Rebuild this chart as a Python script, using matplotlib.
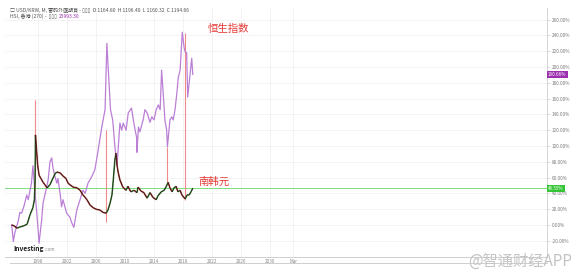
import matplotlib
matplotlib.use("Agg")
import matplotlib.pyplot as plt
from matplotlib.lines import Line2D

plt.rcParams['font.family'] = ['Noto Sans CJK SC', 'DejaVu Sans']

# Hang Seng index, % change from start
hsi_t = [1994.37, 1994.6, 1994.8, 1995.3, 1995.5, 1995.75, 1996.1, 1996.45, 1996.65, 1997.1,
         1997.3, 1997.45, 1997.6, 1997.8, 1998.05, 1998.15, 1998.5, 1998.7, 1999.2, 1999.4,
         1999.65, 1999.9, 2000.05, 2000.35, 2000.6, 2000.75, 2001.05, 2001.25, 2001.45, 2001.95,
         2002.4, 2002.65, 2002.95, 2003.35, 2003.8, 2004.2, 2004.5, 2004.9, 2005.4, 2005.85,
         2006.3, 2006.8, 2007.25, 2007.5, 2007.7, 2007.85, 2008.0, 2008.3, 2008.6, 2008.9,
         2009.3, 2009.55, 2009.75, 2010.15, 2010.45, 2010.9, 2011.15, 2011.4, 2011.6, 2011.65,
         2011.85, 2012.05, 2012.5, 2012.75, 2013.05, 2013.45, 2013.7, 2014.0, 2014.3, 2014.6,
         2014.85, 2015.05, 2015.3, 2015.5, 2015.75, 2015.85, 2016.2, 2016.45, 2016.65, 2016.9,
         2017.15, 2017.35, 2017.6, 2017.9, 2018.15, 2018.3, 2018.5, 2018.65, 2018.85, 2019.2,
         2019.35]
hsi_pct = [0, -21, -10, 6, 16, 15, 25, 38, 32, 53,
           75, 57, 40, 19, -10, -23, 6, 28, 48, 57,
           80, 85, 73, 61, 53, 59, 40, 23, 32, 15,
           10, 3, -3, 19, 32, 44, 40, 53, 61, 70,
           95, 124, 146, 230, 196, 171, 146, 133, 100, 75,
           129, 120, 129, 120, 142, 148, 133, 120, 111, 92,
           124, 118, 133, 146, 142, 130, 137, 133, 146, 152,
           146, 196, 162, 133, 120, 99, 133, 137, 133, 146,
           167, 187, 196, 244, 225, 219, 218, 162, 180, 211,
           190.66]

# USD/KRW monthly close, % change from start
krw_t = [1994.37, 1994.7, 1995.1, 1995.5, 1996.05, 1996.5, 1996.9, 1997.3, 1997.5, 1997.6,
         1997.65, 1997.8, 1997.95, 1998.15, 1998.4, 1998.7, 1998.95, 1999.25, 1999.65, 1999.95,
         2000.35, 2000.6, 2001.05, 2001.45, 2001.85, 2002.15, 2002.4, 2002.85, 2003.4, 2003.8,
         2004.2, 2004.5, 2004.75, 2005.2, 2005.6, 2006.0, 2006.55, 2006.95, 2007.4, 2007.65,
         2007.95, 2008.2, 2008.35, 2008.6, 2008.75, 2008.9, 2009.05, 2009.3, 2009.7, 2010.15,
         2010.4, 2010.8, 2011.25, 2011.65, 2011.8, 2012.2, 2012.6, 2013.05, 2013.45, 2013.85,
         2014.3, 2014.55, 2015.0, 2015.4, 2015.7, 2015.95, 2016.2, 2016.5, 2016.75, 2017.05,
         2017.3, 2017.6, 2017.85, 2018.3, 2018.55, 2018.85, 2019.1, 2019.35]
krw_pct = [0, -1, -4, -2.5, -1, 1, 13, 22, 32, 57,
           114, 95, 76, 63, 59, 54, 51, 47, 51, 57,
           65, 67, 66, 62, 59, 53, 51, 48, 47, 44,
           38, 35, 32, 25, 22, 20, 19, 16, 15, 19,
           28, 38, 53, 82, 91, 76, 67, 57, 48, 44,
           49, 42, 44, 41, 48, 43, 41, 34, 41, 35,
           32, 37, 42, 44, 49, 54, 47, 42, 47, 49,
           42, 44, 38, 33, 38, 38, 42, 46.55]

# red guide lines added by the author
guide_t = [1997.6, 2007.38, 2015.83, 2018.28]
guide_lo = [38, 4, 54, 32]
guide_hi = [158, 120, 99, 243]

year_ticks = [1998, 2002, 2006, 2010, 2014, 2018, 2022, 2026, 2030, 2033.2]
year_labels = ['1998', '2002', '2006', '2010', '2014', '2018', '2022', '2026', '2030', 'Mar']
pct_ticks = list(range(-20, 261, 20))

hsi_last = 190.66
krw_last = 46.55

W, H = 582, 280
fig = plt.figure(figsize=(W / 100, H / 100), dpi=100)
ax = fig.add_axes([5 / W, (H - 257) / H, (547 - 5) / W, (257 - 8) / H])

ax.set_xlim(1993.45, 2068.2)
ax.set_ylim(-40.5, 274.7)

# grid
ax.set_xticks(year_ticks)
ax.set_xticklabels(year_labels)
ax.set_yticks(pct_ticks)
ax.set_yticklabels(['%.2f%%' % v for v in pct_ticks])
ax.grid(True, color='#efefef', lw=0.5)
ax.set_axisbelow(True)

for s in ['top', 'left']:
    ax.spines[s].set_visible(False)
ax.spines['right'].set_color('#cccccc')
ax.spines['right'].set_linewidth(0.6)
ax.spines['bottom'].set_color('#c8c8c8')
ax.spines['bottom'].set_linewidth(0.6)
ax.yaxis.tick_right()
ax.tick_params(axis='y', labelsize=3.3, labelcolor='#777777', color='#cccccc',
               length=2, width=0.5, pad=1.5)
ax.tick_params(axis='x', labelsize=3.3, labelcolor='#888888', length=0, pad=1.2)

# last-price line of USD/KRW
ax.axhline(krw_last, color='#7be07b', lw=0.7, zorder=1)

# guide lines
ax.vlines(guide_t, guide_lo, guide_hi, color='#f08a8a', lw=0.8, zorder=2)

# HSI
ax.plot(hsi_t, hsi_pct, color='#bb7fd6', lw=0.9, zorder=3)

# USD/KRW: up moves green, down moves red
for i in range(1, len(krw_t)):
    c = '#2f7a2f' if krw_pct[i] >= krw_pct[i - 1] else '#9a2424'
    ax.plot(krw_t[i - 1:i + 1], krw_pct[i - 1:i + 1], color=c, lw=1.1,
            solid_capstyle='butt', zorder=4)
ax.plot(krw_t, krw_pct, color='#2b2118', lw=0.45, zorder=5)

# price tags on the right axis
ax.text(1.002, hsi_last, '%.2f%%' % hsi_last, transform=ax.get_yaxis_transform(),
        fontsize=3.3, color='white', va='center', ha='left',
        bbox=dict(boxstyle='square,pad=0.25', fc='#9b2fae', ec='none'))
ax.text(1.002, krw_last, '%.2f%%' % krw_last, transform=ax.get_yaxis_transform(),
        fontsize=3.3, color='white', va='center', ha='left',
        bbox=dict(boxstyle='square,pad=0.25', fc='#35c435', ec='none'))

# annotations
ax.text(2024.2, 248, '恒生指数', fontsize=7.5, color='#e53935', ha='center', va='center')
ax.text(2022.2, 55, '南韩元', fontsize=7.5, color='#e53935', ha='center', va='center')

# second baseline under the time labels
fig.add_artist(Line2D([10 / W, 547 / W], [(H - 263) / H] * 2, color='#c8c8c8', lw=0.6))

# header
fig.text(10 / W, 1 - 10 / H, '□ USD/KRW, M, 雷码外匯期貨 - ▯▯▯  O 1164.80  H 1196.40  L 1160.32  C 1194.66',
         fontsize=3.6, color='#555555', va='center')
fig.text(10 / W, 1 - 16.5 / H, 'HSI, 香港 (270) -  ▯▯▯', fontsize=3.6, color='#555555', va='center')
fig.text(59 / W, 1 - 16.5 / H, '25993.30', fontsize=3.6, color='#9b2fae', va='center')

# logo and watermark
fig.text(13 / W, 1 - 249 / H, 'Investing', fontsize=4.8, fontweight='bold', color='#1a1a1a', va='center')
fig.text(44.5 / W, 1 - 249.5 / H, '.com', fontsize=3.3, color='#888888', va='center')
fig.text(468 / W, 1 - 261 / H, '@智通财经APP', fontsize=11, color='#c4c4c4', va='center')

fig.savefig('out.png', dpi=100)
